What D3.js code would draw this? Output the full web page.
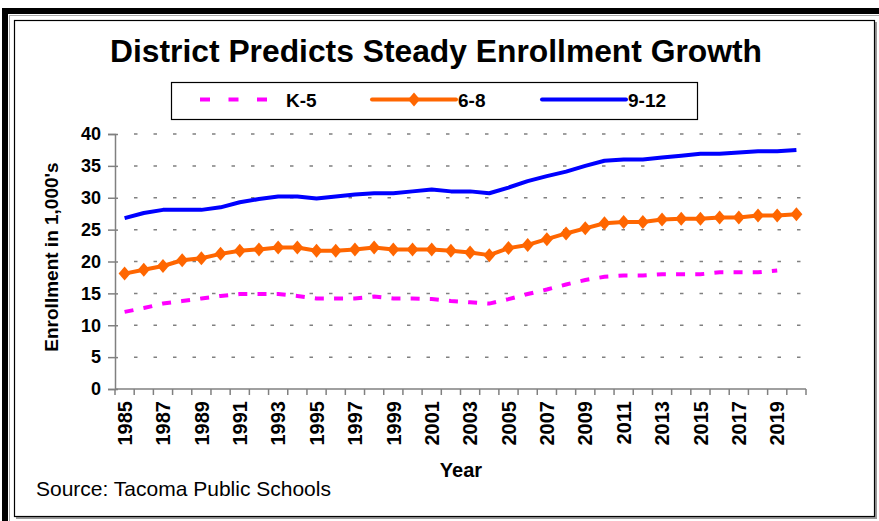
<!DOCTYPE html>
<html>
<head>
<meta charset="utf-8">
<script src="https://cdn.jsdelivr.net/npm/d3@7"></script>
<style>
  body { margin: 0; background: #fff; }
  text { font-family: 'Liberation Sans', Arial, sans-serif; }
</style>
</head>
<body>
<div id="chart"></div>
<script>
const chartWidth = 879
const chartHeight = 521
const axisColor = '#808080'

// 年份 (類別軸)
const years = [
  1985, 1986, 1987, 1988, 1989, 1990, 1991, 1992, 1993, 1994, 1995, 1996,
  1997, 1998, 1999, 2000, 2001, 2002, 2003, 2004, 2005, 2006, 2007, 2008,
  2009, 2010, 2011, 2012, 2013, 2014, 2015, 2016, 2017, 2018, 2019, 2020,
]
// 各學段人數 (千人), K-5 只到 2019
const k5 = [
  12.1, 12.7, 13.4, 13.8, 14.2, 14.6, 14.9, 14.9, 14.9, 14.6, 14.2, 14.2,
  14.2, 14.5, 14.2, 14.2, 14.1, 13.8, 13.6, 13.4, 14.1, 14.9, 15.6, 16.4,
  17.1, 17.6, 17.8, 17.8, 18.0, 18.0, 18.0, 18.3, 18.3, 18.3, 18.6, null,
]
const g68 = [
  18.1, 18.7, 19.3, 20.2, 20.5, 21.2, 21.7, 21.9, 22.2, 22.2, 21.7, 21.7,
  21.9, 22.2, 21.9, 21.9, 21.9, 21.7, 21.4, 21.0, 22.1, 22.6, 23.5, 24.4,
  25.2, 26.0, 26.2, 26.2, 26.6, 26.7, 26.7, 26.9, 26.9, 27.2, 27.2, 27.4,
]
const g912 = [
  26.8, 27.6, 28.1, 28.1, 28.1, 28.5, 29.3, 29.8, 30.2, 30.2, 29.9, 30.2,
  30.5, 30.7, 30.7, 31.0, 31.3, 31.0, 31.0, 30.7, 31.6, 32.6, 33.4, 34.1,
  35.0, 35.8, 36.0, 36.0, 36.3, 36.6, 36.9, 36.9, 37.1, 37.3, 37.3, 37.5,
]
const yTicks = [0, 5, 10, 15, 20, 25, 30, 35, 40]
const seriesNames = ['K-5', '6-8', '9-12']

const svg = d3
  .select('#chart')
  .append('svg')
  .attr('width', chartWidth)
  .attr('height', chartHeight)
  .style('display', 'block')

// 外框
svg.append('rect').attr('x', 2).attr('y', 8).attr('width', 6).attr('height', chartHeight - 8).attr('fill', '#000')
svg.append('rect').attr('x', 2).attr('y', 8).attr('width', chartWidth - 2).attr('height', 6).attr('fill', '#000')
svg.append('line').attr('x1', 9.5).attr('y1', 15).attr('x2', 9.5).attr('y2', chartHeight).attr('stroke', '#a8a8a8')
svg.append('line').attr('x1', 9).attr('y1', 15.5).attr('x2', chartWidth).attr('y2', 15.5).attr('stroke', '#a8a8a8')
svg.append('line').attr('x1', 876).attr('y1', 22).attr('x2', 876).attr('y2', 518).attr('stroke', '#999').attr('stroke-width', 2)
svg.append('line').attr('x1', 16).attr('y1', 518).attr('x2', 877).attr('y2', 518).attr('stroke', '#999').attr('stroke-width', 2)
svg
  .append('rect')
  .attr('x', 14.5)
  .attr('y', 20.5)
  .attr('width', 860)
  .attr('height', 496)
  .attr('fill', '#fff')
  .attr('stroke', '#000')
  .attr('stroke-width', 1.2)

// 標題
svg
  .append('text')
  .attr('x', 436)
  .attr('y', 62)
  .attr('text-anchor', 'middle')
  .style('font-size', '31.8px')
  .style('font-weight', 'bold')
  .text('District Predicts Steady Enrollment Growth')

const x = d3.scaleBand().domain(years).range([115, 806])
const y = d3.scaleLinear().domain([0, 40]).range([389, 134])
const cx = yr => x(yr) + x.bandwidth() / 2

// 格線 (虛線)
svg
  .append('g')
  .selectAll('line')
  .data(yTicks.filter(t => t > 0))
  .enter()
  .append('line')
  .attr('x1', 134)
  .attr('x2', 806)
  .attr('y1', d => y(d))
  .attr('y2', d => y(d))
  .attr('stroke', axisColor)
  .attr('stroke-width', 1.5)
  .attr('stroke-dasharray', '3.5,16')

// Y 軸
const yAxis = svg
  .append('g')
  .attr('transform', 'translate(115,0)')
  .call(d3.axisLeft(y).tickValues(yTicks).tickSize(7).tickPadding(6))
yAxis.select('.domain').attr('stroke', axisColor).attr('stroke-width', 1.5)
yAxis.selectAll('.tick line').attr('stroke', axisColor).attr('stroke-width', 1.5).attr('x2', 3).attr('x1', -7)
yAxis
  .selectAll('.tick text')
  .attr('x', -14)
  .attr('fill', '#000')
  .style('font-size', '18px')
  .style('font-weight', 'bold')
  .style('font-family', "'Liberation Sans', Arial, sans-serif")

// X 軸 (刻度在類別之間)
const xAxis = svg.append('g')
xAxis
  .append('line')
  .attr('x1', 115)
  .attr('x2', 806)
  .attr('y1', 389)
  .attr('y2', 389)
  .attr('stroke', axisColor)
  .attr('stroke-width', 1.5)
xAxis
  .selectAll('.xtick')
  .data(years.concat([null]))
  .enter()
  .append('line')
  .attr('x1', d => (d === null ? x.range()[1] : x(d)))
  .attr('x2', d => (d === null ? x.range()[1] : x(d)))
  .attr('y1', 389)
  .attr('y2', 395)
  .attr('stroke', axisColor)
  .attr('stroke-width', 1.5)
xAxis
  .selectAll('.xlabel')
  .data(years.filter((d, i) => i % 2 === 0))
  .enter()
  .append('text')
  .attr('transform', d => `translate(${cx(d)},401) rotate(-90)`)
  .attr('dy', '0.36em')
  .attr('text-anchor', 'end')
  .style('font-size', '20px')
  .style('font-weight', 'bold')
  .text(d => d)

// 軸標題
svg
  .append('text')
  .attr('transform', 'translate(58,257) rotate(-90)')
  .attr('text-anchor', 'middle')
  .style('font-size', '19px')
  .style('font-weight', 'bold')
  .text("Enrollment in 1,000's")
svg
  .append('text')
  .attr('x', 461)
  .attr('y', 477)
  .attr('text-anchor', 'middle')
  .style('font-size', '20px')
  .style('font-weight', 'bold')
  .text('Year')
svg
  .append('text')
  .attr('x', 36)
  .attr('y', 496)
  .style('font-size', '21px')
  .text('Source: Tacoma Public Schools')

// 折線
const line = d3
  .line()
  .defined(d => d.v !== null)
  .x(d => cx(d.year))
  .y(d => y(d.v))
const toPoints = arr => years.map((year, i) => ({ year, v: arr[i] }))

// 菱形標記
const diamond = {
  draw(ctx) {
    ctx.moveTo(0, -7)
    ctx.lineTo(6, 0)
    ctx.lineTo(0, 7)
    ctx.lineTo(-6, 0)
    ctx.closePath()
  },
}

svg
  .append('path')
  .attr('d', line(toPoints(k5)))
  .attr('fill', 'none')
  .attr('stroke', '#ff00ff')
  .attr('stroke-width', 4)
  .attr('stroke-dasharray', '9,10.2')

svg
  .append('path')
  .attr('d', line(toPoints(g68)))
  .attr('fill', 'none')
  .attr('stroke', '#ff6600')
  .attr('stroke-width', 4)
  .attr('stroke-linejoin', 'round')
svg
  .append('g')
  .selectAll('path')
  .data(toPoints(g68))
  .enter()
  .append('path')
  .attr('d', d3.symbol().type(diamond))
  .attr('transform', d => `translate(${cx(d.year)},${y(d.v)})`)
  .attr('fill', '#ff6600')

svg
  .append('path')
  .attr('d', line(toPoints(g912)))
  .attr('fill', 'none')
  .attr('stroke', '#0000ff')
  .attr('stroke-width', 4)
  .attr('stroke-linejoin', 'round')

// 圖例
const legend = svg.append('g')
legend
  .append('rect')
  .attr('x', 171.5)
  .attr('y', 82.5)
  .attr('width', 526)
  .attr('height', 37)
  .attr('fill', '#fff')
  .attr('stroke', '#000')
  .attr('stroke-width', 1.2)
const legendItems = [
  { name: seriesNames[0], x: 200, color: '#ff00ff', dash: '10,18.5', marker: false, linecap: 'butt' },
  { name: seriesNames[1], x: 372, color: '#ff6600', dash: null, marker: true, linecap: 'round' },
  { name: seriesNames[2], x: 542, color: '#0000ff', dash: null, marker: false, linecap: 'round' },
]
legendItems.forEach(item => {
  legend
    .append('line')
    .attr('x1', item.x)
    .attr('x2', item.x + 84)
    .attr('y1', 99.5)
    .attr('y2', 99.5)
    .attr('stroke', item.color)
    .attr('stroke-width', 4)
    .attr('stroke-linecap', item.linecap)
    .attr('stroke-dasharray', item.dash)
  if (item.marker) {
    legend
      .append('path')
      .attr('d', d3.symbol().type(diamond))
      .attr('transform', `translate(${item.x + 42},99.5)`)
      .attr('fill', item.color)
  }
  legend
    .append('text')
    .attr('x', item.x + 86)
    .attr('y', 106.5)
    .style('font-size', '19px')
    .style('font-weight', 'bold')
    .text(item.name)
})
</script>
</body>
</html>
